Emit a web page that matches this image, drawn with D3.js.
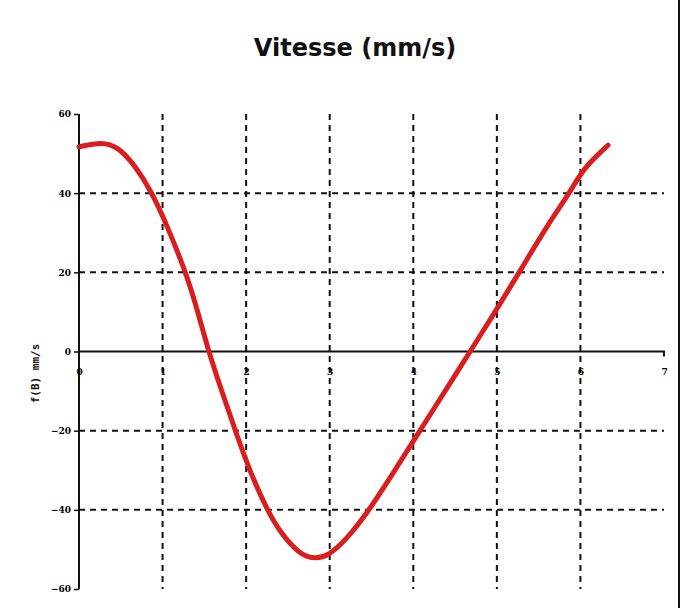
<!DOCTYPE html>
<html>
<head>
<meta charset="utf-8">
<script src="https://cdn.jsdelivr.net/npm/d3@7.9.0/dist/d3.min.js"></script>
<style>
  body { margin: 0; background: #fff; }
  svg { display: block; }
  .tick text { font-family: "DejaVu Serif", serif; font-weight: bold; font-size: 9px; }
</style>
</head>
<body>
<svg id="chart" width="683" height="608"></svg>
<script>
// values
const times = [0, 0.27, 0.47, 0.67, 0.87, 1.04, 1.27, 1.41, 1.55, 1.70, 1.87, 2.05, 2.25, 2.41, 2.64,
  2.82, 2.98, 3.2, 3.46, 3.78, 4.08, 4.38, 4.68, 4.98, 5.28, 5.6, 5.88, 6.03, 6.33];
const speeds = [51.7, 53, 51.7, 47, 40.3, 32.5, 20.5, 11, 0, -9.5, -20, -30.6, -40, -45.8, -51.3,
  -52.4, -51.7, -47.5, -40.5, -30, -20, -10, 0, 10, 20.4, 31.8, 40.3, 46.2, 52.1];
const xTicks = [0, 1, 2, 3, 4, 5, 6, 7];
const yTicks = [-60, -40, -20, 0, 20, 40, 60];
const title = 'Vitesse (mm/s)';
const yTitle = 'f(B) mm/s';

const svg = d3.select('#chart');
const x = d3.scaleLinear().domain([0, 7]).range([79, 664]);
const y = d3.scaleLinear().domain([-60, 60]).range([589, 114]);

// dashed grid
svg.append('g')
  .selectAll('line')
  .data(xTicks.filter((d) => d > 0 && d < 7))
  .join('line')
  .attr('x1', (d) => x(d)).attr('x2', (d) => x(d))
  .attr('y1', y(60)).attr('y2', y(-60))
  .attr('stroke', '#111').attr('stroke-width', 2).attr('stroke-dasharray', '6,5');

svg.append('g')
  .selectAll('line')
  .data(yTicks.filter((d) => d !== 0 && Math.abs(d) < 60))
  .join('line')
  .attr('x1', x(0)).attr('x2', x(7))
  .attr('y1', (d) => y(d)).attr('y2', (d) => y(d))
  .attr('stroke', '#111').attr('stroke-width', 2).attr('stroke-dasharray', '6,5');

// y axis
const yAxis = svg.append('g')
  .attr('transform', `translate(${x(0)},0)`)
  .call(d3.axisLeft(y).tickValues(yTicks).tickFormat(d3.format('d')).tickSize(5).tickPadding(3));
yAxis.select('.domain').attr('stroke', '#111').attr('stroke-width', 2).attr('d', `M0,${y(60)}V${y(-60)}`);
yAxis.selectAll('.tick line').attr('stroke', '#111').attr('stroke-width', 1.5);

// x axis through zero
const xAxis = svg.append('g')
  .attr('transform', `translate(0,${y(0)})`)
  .call(d3.axisBottom(x).tickValues(xTicks).tickFormat(d3.format('d')).tickSize(0).tickPadding(17));
xAxis.select('.domain').attr('stroke', '#111').attr('stroke-width', 2).attr('d', `M${x(0)},0H${x(7)}v5`);

// curve
const line = d3.line()
  .x((d) => x(d[0]))
  .y((d) => y(d[1]))
  .curve(d3.curveBasis);

svg.append('path')
  .datum(times.map((t, i) => [t, speeds[i]]))
  .attr('d', line)
  .attr('fill', 'none')
  .attr('stroke', '#d81e1e')
  .attr('stroke-width', 5)
  .attr('stroke-linecap', 'round');

// titles
svg.append('text')
  .attr('x', 355).attr('y', 56)
  .attr('text-anchor', 'middle')
  .attr('font-family', '"DejaVu Sans", sans-serif')
  .attr('font-weight', 'bold')
  .attr('font-size', 24)
  .attr('fill', '#111')
  .text(title);

svg.append('text')
  .attr('transform', `translate(39,${y(0) + 22}) rotate(-90)`)
  .attr('text-anchor', 'middle')
  .attr('font-family', '"DejaVu Sans Mono", monospace')
  .attr('font-weight', 'bold')
  .attr('font-size', 11)
  .attr('fill', '#111')
  .text(yTitle);

// right border line
svg.append('line')
  .attr('x1', 679).attr('x2', 679).attr('y1', 0).attr('y2', 608)
  .attr('stroke', '#111').attr('stroke-width', 2);
</script>
</body>
</html>
